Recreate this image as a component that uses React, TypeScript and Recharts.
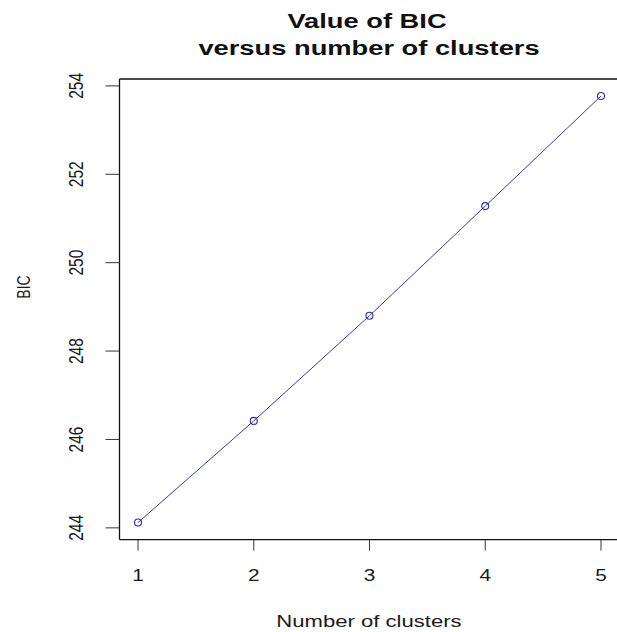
import { LineChart, Line, XAxis, YAxis, ReferenceLine } from "recharts";

// BIC for each cluster count
const clusters = [1, 2, 3, 4, 5];
const bicValues = [244.12, 246.42, 248.8, 251.28, 253.77];
const xTicks = [1, 2, 3, 4, 5];
const yTicks = [244, 246, 248, 250, 252, 254];

const data = clusters.map((k, i) => ({ k, bic: bicValues[i] }));

// base-R style: pad the data range by 4% on each side
const pad = (lo: number, hi: number): [number, number] => {
  const d = (hi - lo) * 0.04;
  return [lo - d, hi + d];
};
const xDomain = pad(Math.min(...clusters), Math.max(...clusters));
const yDomain = pad(Math.min(...bicValues), Math.max(...bicValues));

const FONT = "'Liberation Sans', Arial, Helvetica, sans-serif";
const SX = 1.3; // text is drawn slightly wide

function XTick({ payload, x }: any) {
  return (
    <text
      transform={`translate(${x},581) scale(${SX},1)`}
      textAnchor="middle"
      fontFamily={FONT}
      fontSize={16}
      fill="#1a1a1a"
    >
      {payload.value}
    </text>
  );
}

function YTick({ payload, y }: any) {
  return (
    <text
      transform={`translate(83,${y}) scale(1.35,1) rotate(-90)`}
      textAnchor="middle"
      fontFamily={FONT}
      fontSize={15.5}
      fill="#1a1a1a"
    >
      {payload.value}
    </text>
  );
}

// frame around the plot region (right side falls past the window edge)
const frame = { stroke: "#111", strokeWidth: 1.3, ifOverflow: "visible" as const };

export default function App() {
  return (
    <div
      style={{
        position: "fixed",
        left: 0,
        top: 0,
        width: "100vw",
        height: "100vh",
        overflow: "hidden",
        background: "#fff",
      }}
    >
      <svg
        width={617}
        height={70}
        style={{ position: "absolute", left: 0, top: 0 }}
      >
        <text
          transform={`translate(367,28.3) scale(${SX},1)`}
          textAnchor="middle"
          fontFamily={FONT}
          fontWeight="bold"
          fontSize={21}
          fill="#111"
        >
          Value of BIC
        </text>
        <text
          transform={`translate(369,55) scale(${SX},1)`}
          textAnchor="middle"
          fontFamily={FONT}
          fontWeight="bold"
          fontSize={21}
          fill="#111"
        >
          versus number of clusters
        </text>
      </svg>
      <LineChart
        width={680}
        height={632}
        data={data}
        margin={{ top: 79, right: 60.5, bottom: 62.4, left: 59.5 }}
      >
        <XAxis
          type="number"
          dataKey="k"
          domain={xDomain}
          ticks={xTicks}
          height={30}
          axisLine={false}
          tickLine={{ stroke: "#333" }}
          tickSize={11}
          tick={<XTick />}
          interval={0}
          allowDataOverflow
          label={{
            content: () => (
              <text
                transform={`translate(369,627) scale(${SX},1)`}
                textAnchor="middle"
                fontFamily={FONT}
                fontSize={17}
                fill="#1a1a1a"
              >
                Number of clusters
              </text>
            ),
          }}
        />
        <YAxis
          type="number"
          domain={yDomain}
          ticks={yTicks}
          width={60}
          axisLine={false}
          tickLine={{ stroke: "#333" }}
          tickSize={14}
          tick={<YTick />}
          interval={0}
          allowDataOverflow
          label={{
            content: () => (
              <text
                transform={`translate(30,287) scale(1.35,1) rotate(-90)`}
                textAnchor="middle"
                fontFamily={FONT}
                fontSize={14}
                fill="#1a1a1a"
              >
                BIC
              </text>
            ),
          }}
        />
        <ReferenceLine y={yDomain[1]} {...frame} />
        <ReferenceLine y={yDomain[0]} {...frame} />
        <ReferenceLine x={xDomain[0]} {...frame} />
        <Line
          type="linear"
          dataKey="bic"
          stroke="#3a3a9e"
          strokeWidth={1}
          dot={{ r: 3.5, stroke: "#2a2ab0", fill: "none", strokeWidth: 1.1 }}
          isAnimationActive={false}
        />
      </LineChart>
    </div>
  );
}
